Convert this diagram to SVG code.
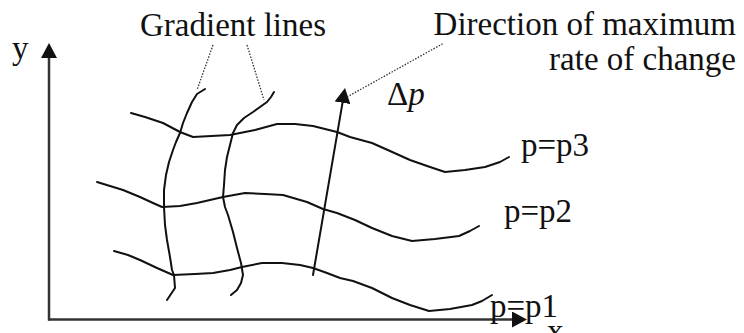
<svg xmlns="http://www.w3.org/2000/svg" width="744" height="333" viewBox="0 0 744 333" font-family="Liberation Serif, Times New Roman, serif" font-size="33">
<style>
text{fill:#111}
.axis{stroke:#333;stroke-width:2.5;fill:none}
.curve{stroke:#111;stroke-width:2;fill:none;stroke-linejoin:round;stroke-linecap:round}
.lead{stroke:#333;stroke-width:1.3;fill:none;stroke-dasharray:1.5 1.5}
</style>
<defs>
<marker id="ah" markerUnits="userSpaceOnUse" markerWidth="15" markerHeight="16" refX="0" refY="8" orient="auto" viewBox="0 0 15 16">
<path d="M0,0 L15,8 L0,16 z" fill="#111"/>
</marker>
</defs>
<rect width="744" height="333" fill="#fff"/>
<g id="axes">
<line class="axis" x1="49" y1="320.5" x2="49" y2="58" marker-end="url(#ah)"/>
<line class="axis" x1="48" y1="319.5" x2="512" y2="319.5" marker-end="url(#ah)"/>
<text x="12" y="59" font-family="Liberation Serif, serif">y</text>
<text x="547" y="342" font-family="Liberation Serif, serif">x</text>
</g>
<g id="curve-p3">
<polyline class="curve" points="131,113 145,117 163,123 180,132 193,137 230,135 255,130 277,124 295,124 313,126 337,132 350,137 372,143 390,151 410,160 430,167 445,172 465,170 485,167 500,162 509,157"/>
<text x="521" y="156" font-family="Liberation Serif, serif">p=p3</text>
</g>
<g id="curve-p2">
<polyline class="curve" points="97,182 110,186 123,190 140,197 153,203 162,207 180,206 197,203 210,200 223,197 245,193 265,194 283,195 307,202 323,209 337,213 355,220 372,228 392,236 412,241 435,239 459,236 470,231 479,226"/>
<text x="504" y="222" font-family="Liberation Serif, serif">p=p2</text>
</g>
<g id="curve-p1">
<polyline class="curve" points="114,251 128,255 140,260 157,268 173,275 195,274 213,273 230,270 242,267 262,263 282,263 300,265 313,268 327,273 340,278 353,281 372,288 392,298 410,305 429,311 450,309 472,305 482,301 492,295"/>
<text x="490" y="317" font-family="Liberation Serif, serif">p=p1</text>
</g>
<g id="gradient-line-1">
<polyline class="curve" points="205,89 197,94 192,102 187,113 183,123 180,133 176,142 173,150 169,162 166,175 164,190 164,207 165,225 167,240 170,257 172,270 174,275 175,288 171,294 167,300"/>
</g>
<g id="gradient-line-2">
<polyline class="curve" points="274,92 271,97 267,102 260,107 253,112 244,118 237,125 233,133 230,145 227,157 225,170 224,185 223,197 225,207 228,215 233,232 237,248 241,263 243,275 241,283 237,290 231,295"/>
</g>
<g id="gradient-arrow">
<line class="curve" x1="313" y1="275" x2="342.5" y2="102.8" marker-end="url(#ah)"/>
<text x="387" y="105" font-family="Liberation Serif, serif">Δ<tspan font-style="italic">p</tspan></text>
</g>
<g id="label-gradient">
<text x="140" y="36" font-family="Liberation Serif, serif">Gradient lines</text>
</g>
<g id="label-direction">
<text x="736" y="35" text-anchor="end" font-family="Liberation Serif, serif">Direction of maximum</text>
<text x="736" y="70" text-anchor="end" font-family="Liberation Serif, serif">rate of change</text>
</g>
<g id="connectors">
<line class="lead" x1="213" y1="45" x2="197" y2="90"/>
<line class="lead" x1="247" y1="45" x2="264" y2="100"/>
<line class="lead" x1="347" y1="97" x2="444" y2="43"/>
</g>
</svg>
